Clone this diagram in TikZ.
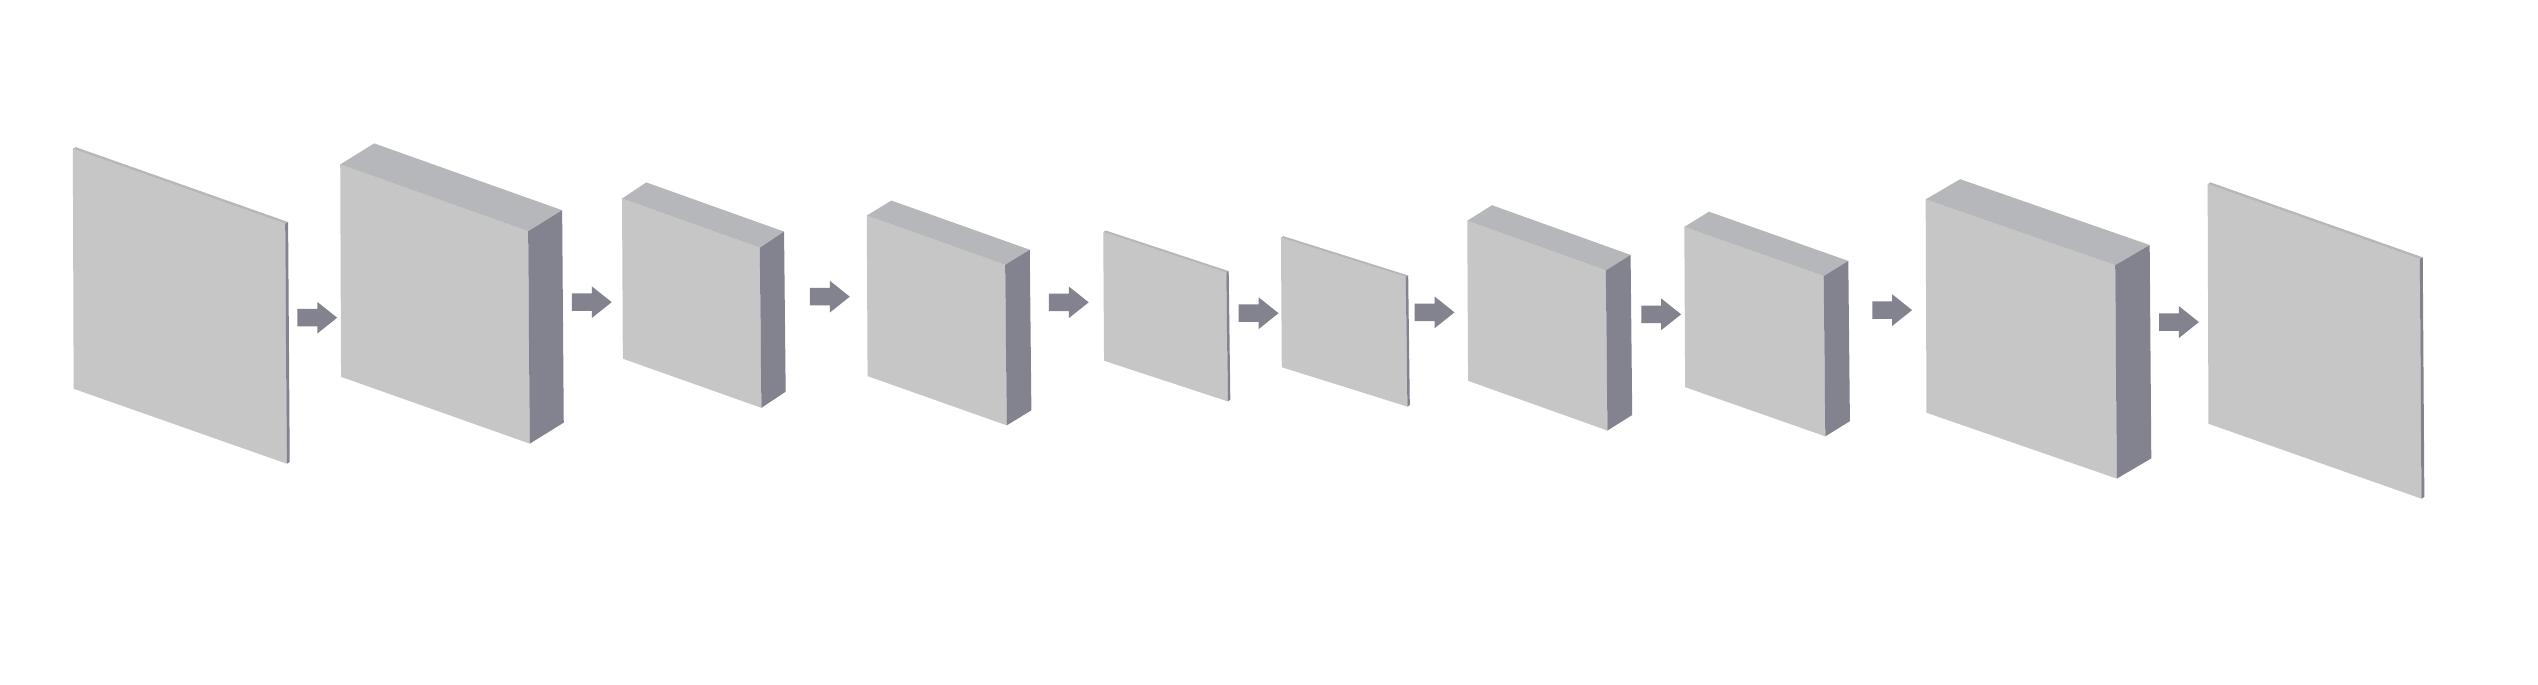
\documentclass[tikz,border=0pt]{standalone}
\usepackage{tikz}
\usepackage{xcolor}
\usetikzlibrary{calc}
\definecolor{facegray}{HTML}{C6C6C6}
\definecolor{topgray}{HTML}{B6B7BB}
\definecolor{sidegray}{HTML}{83828F}
\newcommand{\slab}[4]{
\fill[facegray] (#1)--(#2)--($(#2)+(1,#3)$)--($(#1)+(0.5,#3)$)--cycle;
\fill[topgray] (#1)--($(#1)+(#4)$)--($(#2)+(#4)$)--(#2)--cycle;
\fill[sidegray] (#2)--($(#2)+(#4)$)--($(#2)+(#4)+(1,#3)$)--($(#2)+(1,#3)$)--cycle;}
\newcommand{\blockarrow}[2]{
\fill[sidegray] ($(#1,#2)+(0,-5.4)$)--++(12.3,0)--++(0,-4.4)--++(12.3,9.8)--++(-12.3,9.8)--++(0,-4.4)--++(-12.3,0)--cycle;}

\begin{document}
\begin{tikzpicture}[x=0.01cm,y=-0.01cm]
\fill[white] (0,0) rectangle (1568,422.6);
\useasboundingbox (0,0) rectangle (1568,422.6);
\slab{45,92}{176.2,138.3}{148.2}{1.8,-1.1}
\slab{210.2,101.6}{326.3,142.9}{131.2}{21,-13}
\slab{384.3,122.7}{469.4,153.1}{98.9}{15,-10}
\slab{535.5,133.2}{621,163.6}{99.2}{15.2,-9.3}
\slab{681.6,143.4}{757.6,168.5}{79.5}{1.5,-1}
\slab{791.4,146.9}{868.5,171.2}{80}{1.5,-1}
\slab{906.5,136.4}{992.1,167.1}{98.9}{15.3,-9.6}
\slab{1040.6,140.2}{1126.7,170.6}{99}{15.2,-9.4}
\slab{1189.7,123.2}{1306.8,163.9}{131.8}{21.3,-12.5}
\slab{1363.9,113.8}{1495,160.1}{148}{1.8,-1.1}
%\draw[help lines] (0,0) grid[step=100] (1568,422.6);
\foreach \x/\y in {183.7/196.3,353.3/186.7,500.4/183.3,648/186.8,765.3/193.5,874/193,1014/194.2,1156.7/191.6,1333.9/199}{
\blockarrow{\x}{\y}}
\end{tikzpicture}
\end{document}
